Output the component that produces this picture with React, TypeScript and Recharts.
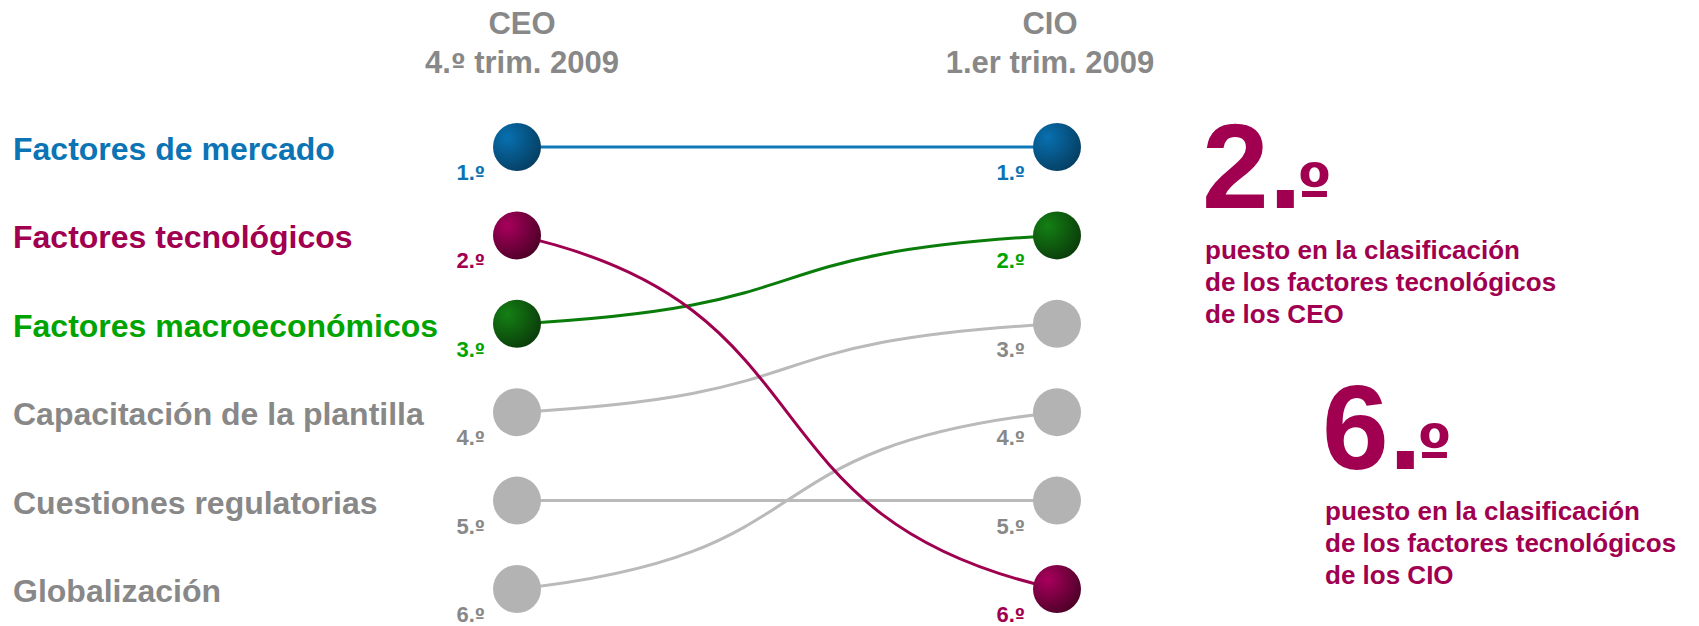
import React from "react"
import { LineChart, Line, XAxis, YAxis } from "recharts"

// ranking of business factors, CEO survey vs CIO survey
const factors = [
  "Factores de mercado",
  "Factores tecnológicos",
  "Factores macroeconómicos",
  "Capacitación de la plantilla",
  "Cuestiones regulatorias",
  "Globalización",
]
const ceoRank = [1, 2, 3, 4, 5, 6]
const cioRank = [1, 6, 2, 3, 5, 4]
const groups = ["CEO", "CIO"]
const periods = ["4.º trim. 2009", "1.er trim. 2009"]
const highlight = 1 // Factores tecnológicos

const textColors = ["#0b74b4", "#a0004f", "#00a400", "#888888", "#888888", "#888888"]
const lineColors = ["#0f78b9", "#9e004f", "#0a7c0a", "#bababa", "#bababa", "#bababa"]
const ballLight = ["#0870b0", "#a8005c", "#148014", "#b3b3b3", "#b3b3b3", "#b3b3b3"]
const ballDark = ["#053d60", "#4a0026", "#0a3a0a", "#b3b3b3", "#b3b3b3", "#b3b3b3"]
const drawOrder = [3, 4, 5, 2, 1, 0]

const FONT = "'Liberation Sans', Arial, Helvetica, sans-serif"
// the ordinal sign with its bar underneath
const ORD_FONT = "'DejaVu Sans', 'Liberation Sans', sans-serif"
const W = 1699
const H = 626

// cubic link between the two columns, control points pulled toward the middle
const K = 0.6
const M = 0.2
function linkCurve(context: any) {
  let pts: [number, number][] = []
  return {
    areaStart() {},
    areaEnd() {},
    lineStart() {
      pts = []
    },
    point(x: number, y: number) {
      pts.push([x, y])
    },
    lineEnd() {
      if (!pts.length) return
      context.moveTo(pts[0][0], pts[0][1])
      for (let i = 1; i < pts.length; i++) {
        const [x0, y0] = pts[i - 1]
        const [x1, y1] = pts[i]
        const dx = x1 - x0
        const dy = y1 - y0
        context.bezierCurveTo(x0 + dx * K, y0 + dy * M, x1 - dx * K, y1 - dy * M, x1, y1)
      }
    },
  }
}

const series = factors.map((name, i) => ({
  name,
  idx: i,
  data: [
    { pos: 0, rank: ceoRank[i] },
    { pos: 1, rank: cioRank[i] },
  ],
}))

// "4.º" style text: number and period, then the ordinal sign
function Ordinal({ text, size }: { text: string; size: number }) {
  const parts = text.split("º")
  return (
    <>
      {parts[0]}
      {parts.length > 1 && (
        <tspan fontFamily={ORD_FONT} fontSize={size}>
          º
        </tspan>
      )}
      {parts.length > 1 && <tspan>{parts[1]}</tspan>}
    </>
  )
}

function FactorTick({ y, payload }: any) {
  const i = ceoRank.indexOf(payload.value)
  return (
    <text x={13} y={y + 13} fill={textColors[i]} fontSize={32} fontWeight="bold" fontFamily={FONT}>
      {factors[i]}
    </text>
  )
}

const headerShift = [5, -7]
function GroupTick({ x, payload, index }: any) {
  const cx = x + headerShift[index]
  return (
    <g fill="#888888" fontSize={31} fontWeight="bold" fontFamily={FONT} textAnchor="middle">
      <text x={cx} y={34}>{groups[payload.value]}</text>
      <text x={cx} y={73}>
        <Ordinal text={periods[payload.value]} size={26} />
      </text>
    </g>
  )
}

function Ball({ cx, cy, idx, index }: any) {
  const id = `ball-${idx}`
  return (
    <g key={`${id}-${index}`}>
      <defs>
        <radialGradient id={id} cx="30%" cy="30%" r="80%">
          <stop offset="0%" stopColor={ballLight[idx]} />
          <stop offset="100%" stopColor={ballDark[idx]} />
        </radialGradient>
      </defs>
      <circle cx={cx} cy={cy} r={24} fill={`url(#${id})`} />
    </g>
  )
}

function RankLabel({ x, y, value, idx, index }: any) {
  return (
    <text
      key={`rank-${idx}-${index}`}
      x={x - 32}
      y={y + 33}
      textAnchor="end"
      fill={textColors[idx]}
      fontSize={22}
      fontWeight="bold"
      fontFamily={FONT}
    >
      <Ordinal text={`${value}.º`} size={18} />
    </text>
  )
}

function Callout({ x, y, rank, who }: { x: number; y: number; rank: number; who: string }) {
  const c = textColors[highlight]
  return (
    <g fill={c} fontWeight="bold" fontFamily={FONT}>
      <text x={x - 3} y={y} fontSize={120}>
        {`${rank}.`}
        <tspan fontSize={62} fontFamily={ORD_FONT} dx={-5}>
          º
        </tspan>
      </text>
      <g fontSize={26}>
        <text x={x} y={y + 51}>puesto en la clasificación</text>
        <text x={x} y={y + 83}>de los factores tecnológicos</text>
        <text x={x} y={y + 115}>{`de los ${who}`}</text>
      </g>
    </g>
  )
}

export default function App() {
  return (
    <div style={{ position: "absolute", left: 0, top: 0, width: W, height: H, background: "#fff" }}>
      <LineChart width={W} height={H} margin={{ top: 0, right: 642, bottom: 37, left: 0 }}>
        <XAxis
          xAxisId={0}
          dataKey="pos"
          type="number"
          domain={[0, 1]}
          ticks={[0, 1]}
          orientation="top"
          height={147}
          axisLine={false}
          tickLine={false}
          tick={<GroupTick />}
        />
        <YAxis
          yAxisId={0}
          type="number"
          domain={[1, 6]}
          ticks={[1, 2, 3, 4, 5, 6]}
          reversed
          width={517}
          axisLine={false}
          tickLine={false}
          tick={<FactorTick />}
        />
        {drawOrder.map((i) => {
          const s = series[i]
          return (
            <Line
              key={s.name}
              name={s.name}
              data={s.data}
              dataKey="rank"
              type={linkCurve as any}
              stroke={lineColors[i]}
              strokeWidth={3}
              isAnimationActive={false}
              dot={(p: any) => <Ball {...p} idx={i} />}
              activeDot={false}
              label={(p: any) => <RankLabel {...p} idx={i} />}
            />
          )
        })}
      </LineChart>
      <svg width={W} height={H} style={{ position: "absolute", left: 0, top: 0, pointerEvents: "none" }}>
        <Callout x={1205} y={208} rank={ceoRank[highlight]} who={groups[0]} />
        <Callout x={1325} y={469} rank={cioRank[highlight]} who={groups[1]} />
      </svg>
    </div>
  )
}
